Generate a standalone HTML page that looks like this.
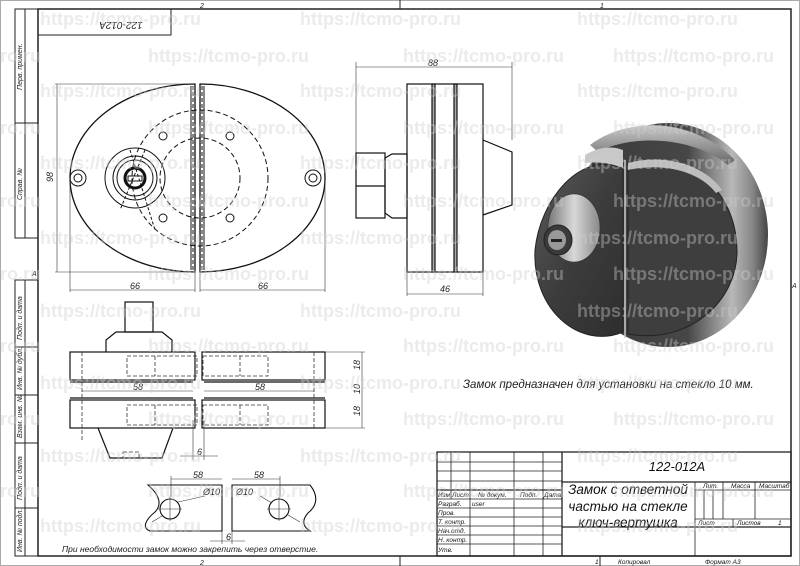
<!DOCTYPE html>
<html><head><meta charset="utf-8"><style>
html,body{margin:0;padding:0;background:#fff;}
svg{display:block;}
text{font-family:"Liberation Sans","DejaVu Sans",sans-serif;}
.it{font-style:italic;}
</style></head><body>
<svg width="800" height="566" viewBox="0 0 800 566" xmlns="http://www.w3.org/2000/svg">
<defs>
<linearGradient id="g1" x1="0" y1="0" x2="1" y2="1">
<stop offset="0" stop-color="#5a5a5a"/><stop offset="0.5" stop-color="#3c3c3c"/><stop offset="1" stop-color="#2e2e2e"/></linearGradient>
<linearGradient id="g2" x1="0" y1="0" x2="1" y2="0">
<stop offset="0" stop-color="#383838"/><stop offset="0.6" stop-color="#474747"/><stop offset="0.82" stop-color="#b8b8b8"/><stop offset="0.92" stop-color="#888"/><stop offset="1" stop-color="#444"/></linearGradient>
<linearGradient id="g3" x1="0" y1="0" x2="1" y2="0">
<stop offset="0" stop-color="#777"/><stop offset="0.5" stop-color="#d8d8d8"/><stop offset="1" stop-color="#888"/></linearGradient>
<linearGradient id="g4" x1="0" y1="0" x2="0" y2="1">
<stop offset="0" stop-color="#c8c8c8"/><stop offset="1" stop-color="#666"/></linearGradient>
</defs>
<rect x="0.5" y="0.5" width="799" height="565" fill="#fff" stroke="#aaa"/>
<g fill="none" stroke="#222" stroke-width="1">
<rect x="38" y="9" width="753" height="547" stroke-width="1.5"/>
<rect x="38" y="9" width="133" height="26"/>
<rect x="15" y="9" width="23" height="229"/>
<line x1="25" y1="9" x2="25" y2="238"/><line x1="15" y1="123" x2="38" y2="123"/>
<rect x="15" y="280" width="23" height="276"/>
<line x1="25" y1="280" x2="25" y2="556"/>
<line x1="15" y1="347" x2="38" y2="347"/><line x1="15" y1="395" x2="38" y2="395"/>
<line x1="15" y1="443" x2="38" y2="443"/><line x1="15" y1="508" x2="38" y2="508"/>
<line x1="400" y1="0" x2="400" y2="9"/><line x1="400" y1="556" x2="400" y2="566"/>
<line x1="600" y1="556" x2="600" y2="566"/>
</g>
<g font-size="7" class="it" fill="#222">
<text x="87" y="20" font-size="10" transform="rotate(180 104 21)" text-anchor="middle">122-012A</text>
<text transform="translate(22,90) rotate(-90)">Перв. примен.</text>
<text transform="translate(22,200) rotate(-90)">Справ. №</text>
<text transform="translate(22,340) rotate(-90)">Подп. и дата</text>
<text transform="translate(22,390) rotate(-90)">Инв. № дубл.</text>
<text transform="translate(22,438) rotate(-90)">Взам. инв. №</text>
<text transform="translate(22,500) rotate(-90)">Подп. и дата</text>
<text transform="translate(22,552) rotate(-90)">Инв. № подл.</text>
<text x="32" y="276">A</text><text x="792" y="288">A</text>
<text x="200" y="8">2</text><text x="600" y="8">1</text><text x="200" y="565">2</text>
</g>

<!-- front view -->
<g fill="none" stroke="#111" stroke-width="1">
<path d="M195,84 A125,94 0 0 0 195,272 Z" stroke-width="1.3"/>
<path d="M200,84 A125,94 0 0 1 200,272 Z" stroke-width="1.3"/>
<line x1="191" y1="86" x2="191" y2="270"/><line x1="204" y1="86" x2="204" y2="270"/>
<line x1="193" y1="86" x2="193" y2="270" stroke-dasharray="4 2"/><line x1="202" y1="86" x2="202" y2="270" stroke-dasharray="4 2"/>
<circle cx="135" cy="178" r="30"/><circle cx="135" cy="178" r="22"/><circle cx="135" cy="178" r="18"/>
<circle cx="135" cy="178" r="10" stroke-width="3"/>
<rect x="128" y="176" width="14" height="5"/>
<circle cx="200" cy="178" r="68" stroke-dasharray="5 3"/>
<circle cx="200" cy="178" r="40" stroke-dasharray="5 3"/>
<circle cx="78" cy="178" r="8"/><circle cx="78" cy="178" r="4"/>
<circle cx="313" cy="178" r="8"/><circle cx="313" cy="178" r="4"/>
<circle cx="163" cy="136" r="4"/><circle cx="163" cy="218" r="4"/>
<circle cx="230" cy="136" r="4"/><circle cx="230" cy="218" r="4"/>
<path d="M130,150 L155,230 M145,150 L120,210" stroke-dasharray="3 2"/>
</g>
<g stroke="#333" stroke-width="0.6" fill="none">
<line x1="55" y1="84" x2="195" y2="84"/><line x1="55" y1="272" x2="195" y2="272"/>
<line x1="57" y1="84" x2="57" y2="272"/>
<line x1="70" y1="178" x2="70" y2="292"/><line x1="195" y1="272" x2="195" y2="292"/>
<line x1="200" y1="272" x2="200" y2="292"/><line x1="325" y1="180" x2="325" y2="292"/>
<line x1="70" y1="290" x2="195" y2="290"/><line x1="200" y1="290" x2="325" y2="290"/>
<line x1="356" y1="62" x2="356" y2="153"/><line x1="512" y1="62" x2="512" y2="140"/>
<line x1="356" y1="67" x2="512" y2="67"/>
<line x1="407" y1="272" x2="407" y2="296"/><line x1="483" y1="272" x2="483" y2="296"/>
<line x1="407" y1="294" x2="483" y2="294"/>
</g>
<g font-size="9" class="it" fill="#222">
<text x="130" y="289">66</text><text x="258" y="289">66</text>
<text transform="translate(53,182) rotate(-90)">98</text>
<text x="428" y="66">88</text><text x="440" y="292">46</text>
</g>

<!-- side view -->
<g fill="none" stroke="#111" stroke-width="1.2">
<rect x="407" y="84" width="76" height="188"/>
<rect x="432" y="84" width="3" height="188" fill="#aaa"/>
<rect x="454" y="84" width="3" height="188" fill="#aaa"/>
<rect x="356" y="153" width="29" height="65"/><line x1="356" y1="186" x2="385" y2="186"/>
<path d="M385,158 L392,154 L407,154 L407,218 L392,218 L385,213 Z"/>
<path d="M483,140 L512,152 L512,205 L483,215"/>
</g>

<!-- 3D view -->
<g>
<ellipse cx="668" cy="235" rx="100" ry="112" fill="url(#g2)"/>
<path d="M590,145 C625,118 690,115 735,160 L728,165 C690,135 630,135 598,152 Z" fill="url(#g4)"/>
<path d="M623,168 C580,150 540,200 535,250 C532,310 580,350 623,332 Z" fill="url(#g1)" stroke="#222"/>
<path d="M628,163 L628,334 C690,345 738,300 737,250 C736,190 690,150 628,163 Z" fill="#3e3e3e" stroke="#222"/>
<path d="M628,163 C665,153 705,165 722,190 L716,193 C700,172 665,162 628,170 Z" fill="#bdbdbd"/>
<path d="M585,155 C600,146 613,146 623,150 L623,168 C608,162 595,162 585,163 Z" fill="#c8c8c8"/>
<line x1="625" y1="160" x2="625" y2="338" stroke="#ccc" stroke-width="1.5"/>
<ellipse cx="574" cy="228" rx="26" ry="34" fill="url(#g3)" stroke="#333" stroke-width="0.6"/>
<ellipse cx="558" cy="240" rx="14" ry="15" fill="#3a3a3a" stroke="#222"/>
<ellipse cx="557" cy="240" rx="9" ry="10" fill="#999"/>
<rect x="551" y="239" width="11" height="3" fill="#222"/>
</g>

<!-- bottom view -->
<g fill="none" stroke="#111" stroke-width="1.2">
<rect x="125" y="302" width="28" height="30"/>
<path d="M106,352 L106,340 L116,332 L162,332 L172,340 L172,352"/>
<rect x="70" y="352" width="125" height="28"/><rect x="202" y="352" width="123" height="28"/>
<rect x="70" y="400" width="125" height="28"/><rect x="202" y="400" width="123" height="28"/>
<path d="M98,428 L110,458 L162,458 L173,428"/>
<line x1="70" y1="382" x2="193" y2="382"/><line x1="204" y1="382" x2="325" y2="382"/>
<line x1="70" y1="398" x2="193" y2="398"/><line x1="204" y1="398" x2="325" y2="398"/>
</g>
<g fill="none" stroke="#333" stroke-width="0.8" stroke-dasharray="4 2">
<rect x="127" y="356" width="70" height="20"/><line x1="155" y1="356" x2="155" y2="376"/>
<rect x="203" y="356" width="65" height="20"/><line x1="240" y1="356" x2="240" y2="376"/>
<rect x="127" y="405" width="70" height="20"/><line x1="155" y1="405" x2="155" y2="425"/>
<rect x="203" y="405" width="65" height="20"/><line x1="240" y1="405" x2="240" y2="425"/>
<line x1="82" y1="352" x2="82" y2="440"/><line x1="314" y1="352" x2="314" y2="430"/>
<rect x="123" y="452" width="16" height="6"/>
</g>
<g stroke="#333" stroke-width="0.6" fill="none">
<line x1="82" y1="391" x2="193" y2="391"/><line x1="204" y1="391" x2="314" y2="391"/>
<line x1="325" y1="352" x2="365" y2="352"/><line x1="325" y1="428" x2="365" y2="428"/>
<line x1="362" y1="352" x2="362" y2="428"/>
<line x1="193" y1="420" x2="193" y2="460"/><line x1="204" y1="420" x2="204" y2="460"/>
<line x1="180" y1="456" x2="218" y2="456"/>
</g>
<g font-size="9" class="it" fill="#222">
<text x="133" y="390">58</text><text x="255" y="390">58</text>
<text transform="translate(360,370) rotate(-90)">18</text>
<text transform="translate(360,394) rotate(-90)">10</text>
<text transform="translate(360,416) rotate(-90)">18</text>
<text x="197" y="455">6</text>
</g>

<!-- detail -->
<g fill="none" stroke="#111" stroke-width="1.1">
<path d="M222,485 L148,485 C160,495 162,505 155,512 C145,520 142,528 150,531 L222,531 Z"/>
<path d="M232,485 L310,485 C318,495 318,505 308,513 C300,522 305,528 310,531 L232,531 Z"/>
<circle cx="170" cy="509" r="10"/><circle cx="279" cy="509" r="10"/>
</g>
<g stroke="#333" stroke-width="0.6" fill="none">
<line x1="158" y1="509" x2="182" y2="509"/><line x1="170" y1="497" x2="170" y2="521"/>
<line x1="267" y1="509" x2="291" y2="509"/><line x1="279" y1="497" x2="279" y2="521"/>
<line x1="171" y1="479" x2="222" y2="479"/><line x1="171" y1="476" x2="171" y2="497"/>
<line x1="232" y1="479" x2="280" y2="479"/><line x1="280" y1="476" x2="280" y2="497"/>
<line x1="178" y1="502" x2="205" y2="496"/><line x1="288" y1="515" x2="300" y2="522"/>
<line x1="260" y1="496" x2="272" y2="503"/><line x1="152" y1="522" x2="162" y2="516"/>
<line x1="210" y1="541" x2="245" y2="541"/><line x1="222" y1="531" x2="222" y2="544"/><line x1="232" y1="531" x2="232" y2="544"/>
</g>
<g font-size="9" class="it" fill="#222">
<text x="193" y="478">58</text><text x="254" y="478">58</text>
<text x="203" y="495">Ø10</text><text x="236" y="495">Ø10</text>
<text x="226" y="540">6</text>
<text x="62" y="552" font-size="8.5">При необходимости замок можно закрепить через отверстие.</text>
<text x="463" y="388" font-size="11.5">Замок предназначен для установки на стекло 10 мм.</text>
</g>

<!-- title block -->
<g fill="none" stroke="#222" stroke-width="0.8">
<rect x="437" y="452" width="354" height="104" stroke-width="1.3"/>
<line x1="562" y1="452" x2="562" y2="556" stroke-width="1.3"/>
<line x1="451" y1="452" x2="451" y2="499"/><line x1="470" y1="452" x2="470" y2="556"/>
<line x1="514" y1="452" x2="514" y2="556"/><line x1="543" y1="452" x2="543" y2="556"/>
<line x1="437" y1="462" x2="562" y2="462"/><line x1="437" y1="471" x2="562" y2="471"/>
<line x1="437" y1="481" x2="562" y2="481"/><line x1="437" y1="490" x2="562" y2="490" stroke-width="1.2"/>
<line x1="437" y1="499" x2="562" y2="499"/><line x1="437" y1="508" x2="562" y2="508"/>
<line x1="437" y1="517" x2="562" y2="517"/><line x1="437" y1="526" x2="562" y2="526"/>
<line x1="437" y1="535" x2="562" y2="535"/><line x1="437" y1="544" x2="562" y2="544"/>
<line x1="562" y1="482" x2="791" y2="482" stroke-width="1.2"/>
<line x1="562" y1="527" x2="791" y2="527" stroke-width="1.2"/>
<line x1="695" y1="482" x2="695" y2="556"/>
<line x1="723" y1="482" x2="723" y2="519"/><line x1="755" y1="482" x2="755" y2="519"/>
<line x1="695" y1="490" x2="791" y2="490"/><line x1="695" y1="519" x2="791" y2="519"/>
<line x1="704" y1="490" x2="704" y2="519"/><line x1="713" y1="490" x2="713" y2="519"/>
<line x1="733" y1="519" x2="733" y2="527"/>
</g>
<g class="it" fill="#111">
<text x="677" y="471" font-size="13" text-anchor="middle">122-012A</text>
<text x="628" y="494" font-size="13.5" text-anchor="middle">Замок с ответной</text>
<text x="628" y="511" font-size="13.5" text-anchor="middle">частью на стекле</text>
<text x="628" y="527" font-size="13.5" text-anchor="middle">ключ-вертушка</text>
<g font-size="6.5">
<text x="438" y="497">Изм</text><text x="452" y="497">Лист</text><text x="478" y="497">№ докум.</text>
<text x="520" y="497">Подп.</text><text x="544" y="497">Дата</text>
<text x="438" y="506">Разраб.</text><text x="472" y="506">user</text>
<text x="438" y="515">Пров.</text><text x="438" y="524">Т. контр.</text>
<text x="438" y="533">Нач.отд.</text><text x="438" y="542">Н. контр.</text><text x="438" y="552">Утв.</text>
<text x="703" y="488">Лит.</text><text x="731" y="488">Масса</text><text x="759" y="488">Масштаб</text>
<text x="698" y="525">Лист</text><text x="737" y="525">Листов</text><text x="778" y="525">1</text>
<text x="595" y="564">1</text><text x="618" y="564">Копировал</text><text x="705" y="564">Формат А3</text>
</g>
</g>

<!-- watermarks -->
<g font-size="18" font-weight="bold" fill="#cccccc" fill-opacity="0.4" font-family="Liberation Sans, sans-serif">
<text x="40" y="25">https://tcmo-pro.ru</text><text x="300" y="25">https://tcmo-pro.ru</text><text x="577" y="25">https://tcmo-pro.ru</text>
<text x="-120" y="62">https://tcmo-pro.ru</text><text x="148" y="62">https://tcmo-pro.ru</text><text x="403" y="62">https://tcmo-pro.ru</text><text x="613" y="62">https://tcmo-pro.ru</text>
<text x="40" y="97">https://tcmo-pro.ru</text><text x="300" y="97">https://tcmo-pro.ru</text><text x="577" y="97">https://tcmo-pro.ru</text>
<text x="-120" y="134">https://tcmo-pro.ru</text><text x="148" y="134">https://tcmo-pro.ru</text><text x="403" y="134">https://tcmo-pro.ru</text><text x="613" y="134">https://tcmo-pro.ru</text>
<text x="40" y="169">https://tcmo-pro.ru</text><text x="300" y="169">https://tcmo-pro.ru</text><text x="577" y="169">https://tcmo-pro.ru</text>
<text x="-120" y="207">https://tcmo-pro.ru</text><text x="148" y="207">https://tcmo-pro.ru</text><text x="403" y="207">https://tcmo-pro.ru</text><text x="613" y="207">https://tcmo-pro.ru</text>
<text x="40" y="244">https://tcmo-pro.ru</text><text x="300" y="244">https://tcmo-pro.ru</text><text x="577" y="244">https://tcmo-pro.ru</text>
<text x="-120" y="280">https://tcmo-pro.ru</text><text x="148" y="280">https://tcmo-pro.ru</text><text x="403" y="280">https://tcmo-pro.ru</text><text x="613" y="280">https://tcmo-pro.ru</text>
<text x="40" y="317">https://tcmo-pro.ru</text><text x="300" y="317">https://tcmo-pro.ru</text><text x="577" y="317">https://tcmo-pro.ru</text>
<text x="-120" y="352">https://tcmo-pro.ru</text><text x="148" y="352">https://tcmo-pro.ru</text><text x="403" y="352">https://tcmo-pro.ru</text><text x="613" y="352">https://tcmo-pro.ru</text>
<text x="40" y="389">https://tcmo-pro.ru</text><text x="300" y="389">https://tcmo-pro.ru</text><text x="577" y="389">https://tcmo-pro.ru</text>
<text x="-120" y="425">https://tcmo-pro.ru</text><text x="148" y="425">https://tcmo-pro.ru</text><text x="403" y="425">https://tcmo-pro.ru</text><text x="613" y="425">https://tcmo-pro.ru</text>
<text x="40" y="462">https://tcmo-pro.ru</text><text x="300" y="462">https://tcmo-pro.ru</text><text x="577" y="462">https://tcmo-pro.ru</text>
<text x="-120" y="497">https://tcmo-pro.ru</text><text x="148" y="497">https://tcmo-pro.ru</text><text x="403" y="497">https://tcmo-pro.ru</text><text x="613" y="497">https://tcmo-pro.ru</text>
<text x="40" y="532">https://tcmo-pro.ru</text><text x="300" y="532">https://tcmo-pro.ru</text><text x="577" y="532">https://tcmo-pro.ru</text>
</g>
</svg>
</body></html>
